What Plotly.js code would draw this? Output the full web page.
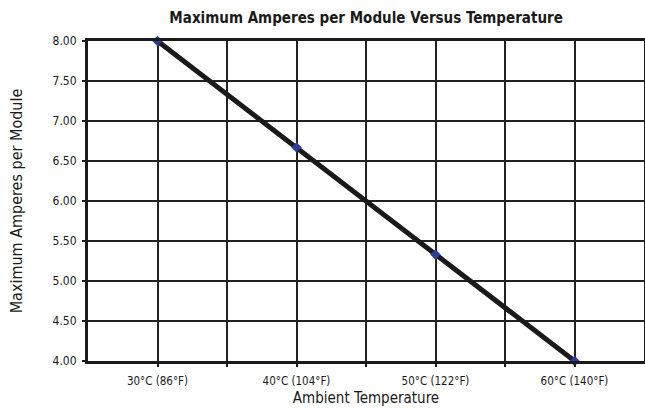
<!DOCTYPE html>
<html>
<head>
<meta charset="utf-8">
<script src="https://cdn.plot.ly/plotly-3.0.1.min.js"></script>
<style>html,body{margin:0;padding:0;background:#fff;}#chart{width:645px;height:414px;}</style>
</head>
<body>
<div id="chart"></div>
<script>
// Data
const tempsC = [30, 40, 50, 60];
const maxAmps = [8.00, 6.67, 5.33, 4.00];
const xTickVals = [30, 35, 40, 45, 50, 55, 60];
const xTickText = ["30°C (86°F)", "", "40°C (104°F)", "", "50°C (122°F)", "", "60°C (140°F)"];
const yTickVals = [4.0, 4.5, 5.0, 5.5, 6.0, 6.5, 7.0, 7.5, 8.0];
const yTickText = ["4.00", "4.50", "5.00", "5.50", "6.00", "6.50", "7.00", "7.50", "8.00"];

const FONT = '"Liberation Sans Narrow", "DejaVu Sans Condensed", "Roboto", sans-serif';

const trace = {
  x: tempsC,
  y: maxAmps,
  type: 'scatter',
  mode: 'lines+markers',
  line: {color: '#1a1a1a', width: 5},
  marker: {symbol: 'diamond', size: 8, color: '#2e3a9c'},
  cliponaxis: false,
  hoverinfo: 'skip'
};

const layout = {
  width: 645, height: 414,
  margin: {l: 88, r: 1, t: 41, b: 53},
  paper_bgcolor: '#fff', plot_bgcolor: '#fff',
  showlegend: false,
  font: {family: FONT, color: '#1a1a1a', size: 13},
  title: {
    text: '<b>Maximum Amperes per Module Versus Temperature</b>',
    font: {family: FONT, size: 15, color: '#1a1a1a'},
    x: 0.5676, xanchor: 'center', y: 0.958, yanchor: 'middle'
  },
  xaxis: {
    range: [25, 65],
    tickvals: xTickVals, ticktext: xTickText,
    showgrid: true, gridcolor: '#222', gridwidth: 2,
    showline: true, linecolor: '#1a1a1a', linewidth: 3, mirror: true,
    ticks: 'outside', ticklen: 3, tickcolor: '#1a1a1a', tickwidth: 2,
    ticklabelstandoff: 4,
    zeroline: false, fixedrange: true,
    tickfont: {family: FONT, size: 11.5, color: '#1a1a1a'},
    title: {text: 'Ambient Temperature', font: {family: FONT, size: 15, color: '#1a1a1a'}, standoff: 6}
  },
  yaxis: {
    range: [4, 8],
    tickvals: yTickVals, ticktext: yTickText,
    showgrid: true, gridcolor: '#222', gridwidth: 2,
    showline: true, linecolor: '#1a1a1a', linewidth: 3, mirror: true,
    ticks: 'outside', ticklen: 3, tickcolor: '#1a1a1a', tickwidth: 2,
    ticklabelstandoff: 3,
    zeroline: false, fixedrange: true,
    tickfont: {family: FONT, size: 12, color: '#1a1a1a'},
    title: {text: 'Maximum Amperes per Module', font: {family: FONT, size: 16, color: '#1a1a1a'}, standoff: 26}
  }
};

Plotly.newPlot('chart', [trace], layout, {staticPlot: true, displayModeBar: false});
</script>
</body>
</html>
